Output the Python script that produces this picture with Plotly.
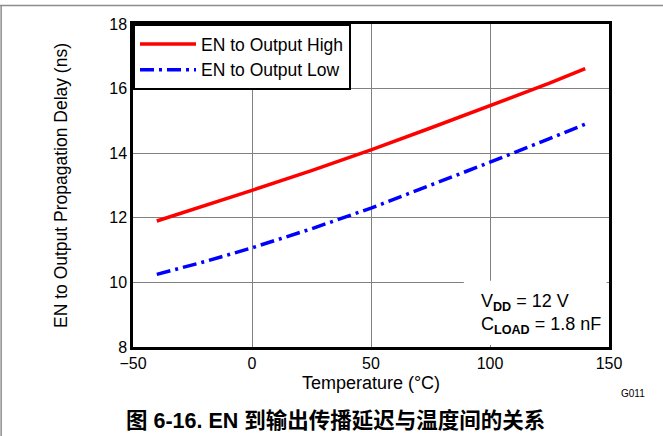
import plotly.graph_objects as go

# Propagation delay vs. temperature (VDD = 12 V, CLOAD = 1.8 nF)
temp_c = [-40, -20, 0, 25, 50, 75, 100, 125, 140]
delay_high_ns = [11.9, 12.37, 12.85, 13.46, 14.1, 14.78, 15.47, 16.17, 16.62]
delay_low_ns = [10.25, 10.64, 11.07, 11.66, 12.3, 13.0, 13.72, 14.45, 14.9]

series_names = ["EN to Output High", "EN to Output Low"]
x_ticks = [-50, 0, 50, 100, 150]
y_ticks = [8, 10, 12, 14, 16, 18]

FONT = "Liberation Sans, Arial, Noto Sans CJK SC, sans-serif"

fig = go.Figure()
fig.add_trace(go.Scatter(
    x=temp_c, y=delay_high_ns, mode="lines", name=series_names[0],
    line=dict(color="#ff0000", width=3.5),
))
fig.add_trace(go.Scatter(
    x=temp_c, y=delay_low_ns, mode="lines", name=series_names[1],
    line=dict(color="#0000ff", width=3.5, dash="14px,5px,3px,5px"),
))

axis_common = dict(
    showline=True, linecolor="black", linewidth=2.5, mirror=True,
    showgrid=True, gridcolor="#808080", gridwidth=1,
    ticks="", zeroline=False,
    tickfont=dict(family=FONT, size=16, color="black"),
)

fig.update_xaxes(
    range=[-50, 150], tickvals=x_ticks,
    ticktext=[f"{v}".replace("-", "\u2212") for v in x_ticks],
    title=dict(text="Temperature (°C)", font=dict(family=FONT, size=18, color="black"), standoff=6),
    **axis_common,
)
fig.update_yaxes(
    range=[8, 18], tickvals=y_ticks,
    title=dict(text="EN to Output Propagation Delay (ns)", font=dict(family=FONT, size=17.5, color="black"), standoff=38),
    **axis_common,
)

# Conditions box in the lower-right corner of the plot
fig.add_shape(type="rect", xref="paper", yref="paper", x0=0.695, x1=0.995, y0=0.006, y1=0.205,
              fillcolor="white", line=dict(width=0), layer="above")
fig.add_annotation(
    xref="paper", yref="paper", x=0.726, y=0.025, xanchor="left", yanchor="bottom",
    align="left", showarrow=False,
    text="V<sub><b>DD</b></sub> = 12 V<br>C<sub><b>LOAD</b></sub> = 1.8 nF",
    font=dict(family=FONT, size=18, color="black"),
)

# Outer frame lines of the figure panel
fig.add_shape(type="line", xref="paper", yref="paper", x0=-0.3, x1=1.2, y0=1.057, y1=1.057,
              line=dict(color="#8c8c8c", width=1.5))
fig.add_shape(type="line", xref="paper", yref="paper", x0=-0.277, x1=-0.277, y0=-0.3, y1=1.057,
              line=dict(color="#8c8c8c", width=1.5))

fig.add_annotation(xref="paper", yref="paper", x=1.02, y=-0.145, xanchor="left", yanchor="middle",
                   showarrow=False, text="G011", font=dict(family=FONT, size=10, color="black"))
fig.add_annotation(xref="paper", yref="paper", x=0.425, y=-0.23, xanchor="center", yanchor="middle",
                   showarrow=False, text="<b>图 6-16. EN 到输出传播延迟与温度间的关系</b>",
                   font=dict(family="Liberation Sans, Noto Sans CJK SC, sans-serif", size=21.5, color="black"))

fig.update_layout(
    width=663, height=436,
    margin=dict(l=133, r=54, t=24, b=89),
    paper_bgcolor="white", plot_bgcolor="white",
    showlegend=True,
    legend=dict(
        x=0, y=1, xanchor="left", yanchor="top",
        bgcolor="white", bordercolor="black", borderwidth=2,
        font=dict(family=FONT, size=17.5, color="black"),
        tracegroupgap=0, itemwidth=56,
    ),
)

fig.write_html("out.html")
